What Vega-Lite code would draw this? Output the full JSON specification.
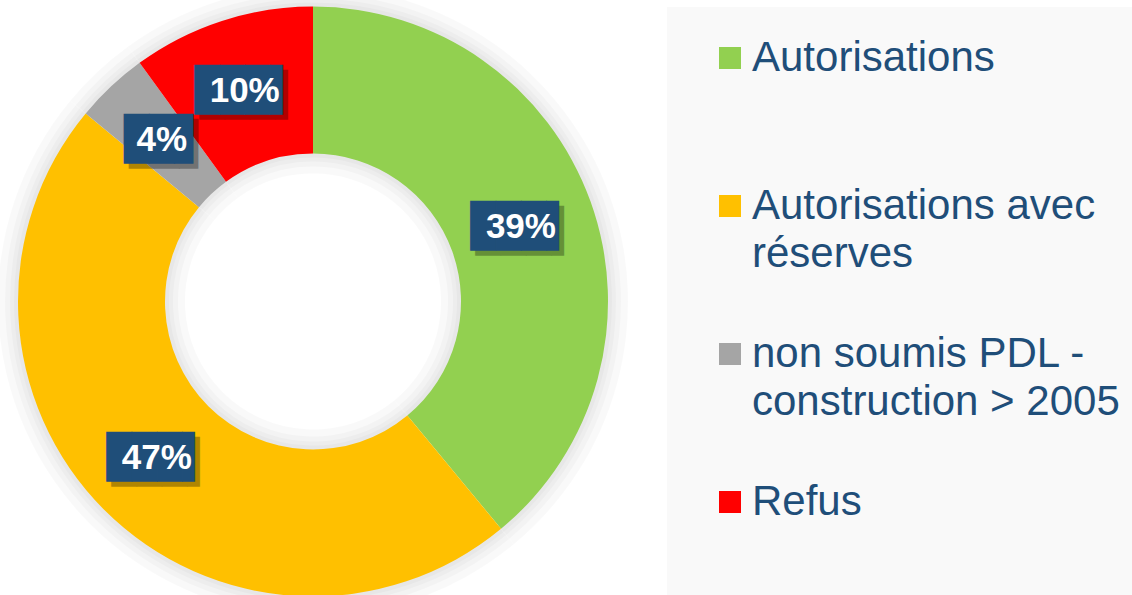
{
  "$schema": "https://vega.github.io/schema/vega-lite/v6.json",
  "width": 590,
  "height": 587,
  "autosize": {"type": "none"},
  "padding": {"left": 18, "top": 8, "right": 524, "bottom": 0},
  "background": "#ffffff",
  "config": {"view": {"stroke": null}, "style": {"guide-label": {"lineHeight": 48}}},
  "data": {"values": [
    {"categorie": "Autorisations", "part": 0.39, "ordre": 1},
    {"categorie": "Autorisations avec réserves", "part": 0.47, "ordre": 2},
    {"categorie": "non soumis PDL - construction > 2005", "part": 0.04, "ordre": 3},
    {"categorie": "Refus", "part": 0.10, "ordre": 4}
  ]},
  "encoding": {
    "theta": {"field": "part", "type": "quantitative", "stack": true},
    "order": {"field": "ordre", "type": "ordinal"}
  },
  "layer": [
    {"mark": {"type": "arc", "outerRadius": 315, "innerRadius": 290, "color": "#000000", "opacity": 0.025}},
    {"mark": {"type": "arc", "outerRadius": 308, "innerRadius": 290, "color": "#000000", "opacity": 0.025}},
    {"mark": {"type": "arc", "outerRadius": 303, "innerRadius": 290, "color": "#000000", "opacity": 0.025}},
    {"mark": {"type": "arc", "outerRadius": 299, "innerRadius": 290, "color": "#000000", "opacity": 0.025}},
    {"mark": {"type": "arc", "outerRadius": 152, "innerRadius": 128, "color": "#000000", "opacity": 0.025}},
    {"mark": {"type": "arc", "outerRadius": 152, "innerRadius": 135, "color": "#000000", "opacity": 0.025}},
    {"mark": {"type": "arc", "outerRadius": 152, "innerRadius": 140, "color": "#000000", "opacity": 0.025}},
    {"mark": {"type": "arc", "outerRadius": 152, "innerRadius": 144, "color": "#000000", "opacity": 0.025}},
    {
      "mark": {"type": "arc", "outerRadius": 295, "innerRadius": 148},
      "encoding": {
        "color": {
          "field": "categorie", "type": "nominal",
          "scale": {
            "domain": ["Autorisations", "Autorisations avec réserves", "non soumis PDL - construction > 2005", "Refus"],
            "range": ["#92D050", "#FFC000", "#A5A5A5", "#FF0000"]
          },
          "legend": {
            "title": null,
            "orient": "none",
            "legendX": 649,
            "legendY": -1,
            "fillColor": "#F9F9F9",
            "padding": 30,
            "symbolType": "square",
            "symbolSize": 484,
            "symbolStrokeWidth": 0,
            "symbolOffset": 12,
            "labelOffset": 1,
            "labelFont": "Liberation Sans",
            "labelFontSize": 42,
            "labelColor": "#1F4E79",
            "labelLimit": 600,
            "rowPadding": 58,
            "labelExpr": "datum.label == 'Autorisations avec réserves' ? ['Autorisations avec', 'réserves'] : datum.label == 'non soumis PDL - construction > 2005' ? ['non soumis PDL -', 'construction > 2005'] : [datum.label, '']"
          }
        }
      }
    },
    {
      "mark": {"type": "text", "radius": 221, "font": "DejaVu Sans Mono", "fontSize": 42, "dx": 5, "dy": 5, "color": "#000000", "opacity": 0.3},
      "encoding": {"text": {"condition": {"test": "datum.part < 0.05", "value": "██▊"}, "value": "███▌"}}
    },
    {
      "mark": {"type": "text", "radius": 221, "font": "DejaVu Sans Mono", "fontSize": 42, "color": "#1F4E79"},
      "encoding": {"text": {"condition": {"test": "datum.part < 0.05", "value": "██▊"}, "value": "███▌"}}
    },
    {
      "mark": {"type": "text", "radius": 221, "font": "Liberation Sans", "fontWeight": "bold", "fontSize": 35, "color": "#ffffff"},
      "encoding": {"text": {"field": "part", "type": "quantitative", "format": ".0%"}}
    }
  ]
}
